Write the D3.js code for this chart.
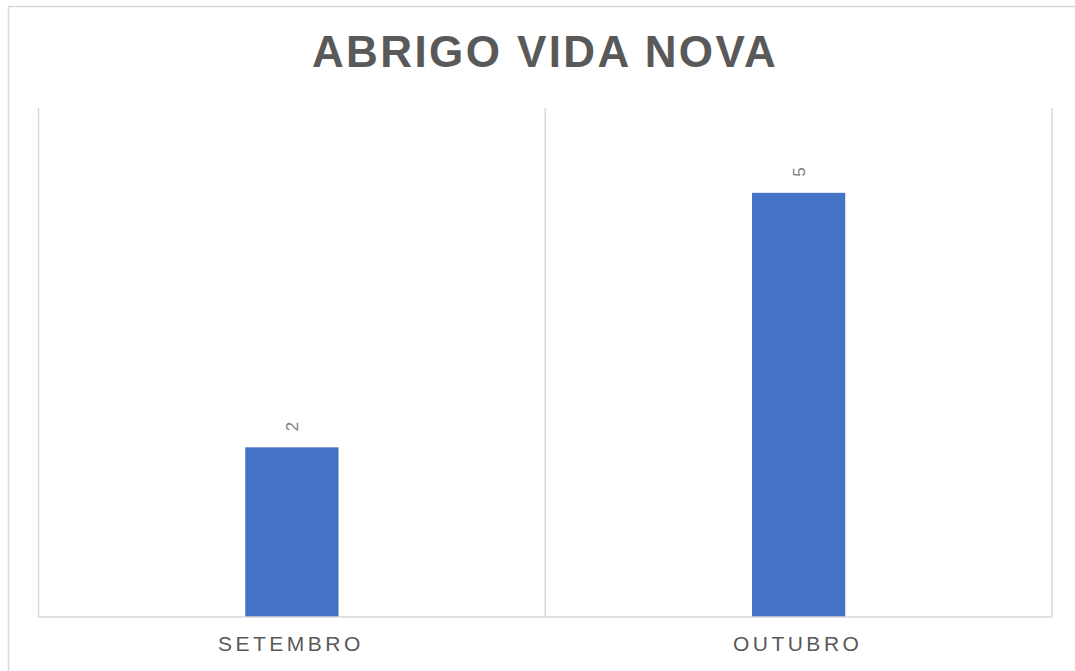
<!DOCTYPE html>
<html>
<head>
<meta charset="utf-8">
<script src="https://cdn.jsdelivr.net/npm/d3@7"></script>
<style>
  html, body { margin: 0; padding: 0; background: #fff; }
  svg { display: block; }
  text { font-family: "Liberation Sans", Arial, sans-serif; }
</style>
</head>
<body>
<svg id="chart" width="1075" height="671"></svg>
<script>
const title = "ABRIGO VIDA NOVA";
const categories = ["SETEMBRO", "OUTUBRO"];
const values = [2, 5];
const yMax = 6;

const W = 1075, H = 671;
const plot = { left: 38.5, right: 1052, top: 108, bottom: 617 };

const svg = d3.select("#chart");

// outer chart border
svg.append("rect")
  .attr("x", 8.5).attr("y", 6.5)
  .attr("width", W + 20).attr("height", H + 20)
  .attr("fill", "#fff")
  .attr("stroke", "#d9d9d9").attr("stroke-width", 1.5);

const x = d3.scaleBand().domain(categories)
  .range([plot.left, plot.right]).paddingInner(0).paddingOuter(0);
const y = d3.scaleLinear().domain([0, yMax]).range([plot.bottom, plot.top]);

// vertical gridlines at category boundaries
const bounds = categories.map(c => x(c)).concat([x(categories[categories.length - 1]) + x.bandwidth()]);
svg.append("g").selectAll("line").data(bounds).join("line")
  .attr("x1", d => d).attr("x2", d => d)
  .attr("y1", y(yMax)).attr("y2", y(0))
  .attr("stroke", "#d9d9d9").attr("stroke-width", 1.5);

// bars
const barFrac = 0.184;
const bw = x.bandwidth() * barFrac;
svg.append("g").selectAll("rect").data(values).join("rect")
  .attr("x", (d, i) => x(categories[i]) + x.bandwidth() / 2 - bw / 2)
  .attr("y", d => y(d))
  .attr("width", bw)
  .attr("height", d => y(0) - y(d))
  .attr("fill", "#4472c4");

// baseline
svg.append("line")
  .attr("x1", plot.left).attr("x2", plot.right)
  .attr("y1", y(0)).attr("y2", y(0))
  .attr("stroke", "#d9d9d9").attr("stroke-width", 1.5);

// value labels (rotated)
svg.append("g").selectAll("text").data(values).join("text")
  .attr("transform", (d, i) => `translate(${x(categories[i]) + x.bandwidth() / 2},${y(d) - 16}) rotate(-90)`)
  .attr("dy", "0.35em")
  .attr("text-anchor", "start")
  .attr("font-size", 17)
  .attr("fill", "#7f7f7f")
  .text(d => d);

// category labels
svg.append("g").selectAll("text").data(categories).join("text")
  .attr("x", d => x(d) + x.bandwidth() / 2 - 1)
  .attr("y", 651)
  .attr("text-anchor", "middle")
  .attr("font-size", 21)
  .attr("letter-spacing", 3.5)
  .attr("fill", "#595959")
  .text(d => d);

// title
svg.append("text")
  .attr("x", 545).attr("y", 67)
  .attr("text-anchor", "middle")
  .attr("font-size", 44)
  .attr("font-weight", "bold")
  .attr("letter-spacing", 2.4)
  .attr("fill", "#595959")
  .text(title);
</script>
</body>
</html>
